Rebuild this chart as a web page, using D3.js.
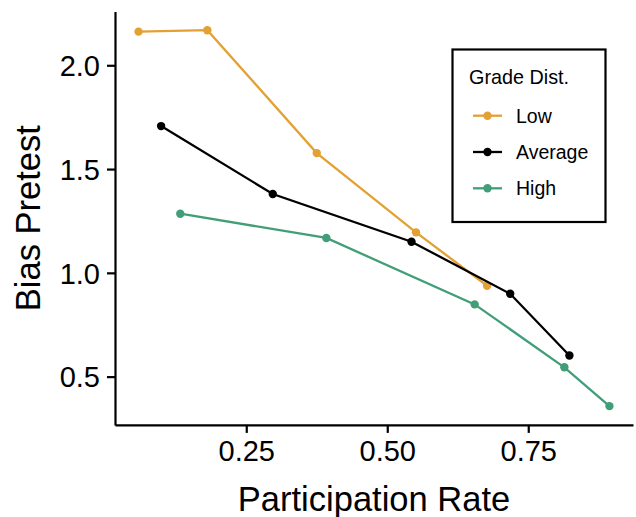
<!DOCTYPE html>
<html>
<head>
<meta charset="utf-8">
<script src="https://cdn.jsdelivr.net/npm/d3@7"></script>
<style>
  html, body { margin: 0; padding: 0; background: #fff; }
  svg { display: block; font-family: "Liberation Sans", Arial, Helvetica, sans-serif; }
</style>
</head>
<body>
<svg id="chart" width="636" height="517"></svg>
<script>
// ---- data ----
const seriesNames = ["Low", "Average", "High"];
const seriesColors = ["#E3A133", "#000000", "#429E78"];
const lowX  = [0.059, 0.181, 0.375, 0.551, 0.677];
const lowY  = [2.162, 2.169, 1.577, 1.195, 0.938];
const avgX  = [0.099, 0.297, 0.543, 0.718, 0.823];
const avgY  = [1.707, 1.380, 1.150, 0.899, 0.602];
const highX = [0.133, 0.392, 0.655, 0.814, 0.894];
const highY = [1.285, 1.168, 0.848, 0.545, 0.358];
const xTicks = [0.25, 0.50, 0.75];
const yTicks = [0.5, 1.0, 1.5, 2.0];
const xTitle = "Participation Rate";
const yTitle = "Bias Pretest";
const legendTitle = "Grade Dist.";

const series = [
  {name: seriesNames[0], color: seriesColors[0], pts: lowX.map((x, i) => ({x, y: lowY[i]}))},
  {name: seriesNames[1], color: seriesColors[1], pts: avgX.map((x, i) => ({x, y: avgY[i]}))},
  {name: seriesNames[2], color: seriesColors[2], pts: highX.map((x, i) => ({x, y: highY[i]}))}
];

// ---- layout ----
const svg = d3.select("#chart");
const pLeft = 115, pRight = 633, pTop = 11.4, pBottom = 424.9;

const allX = series.flatMap(s => s.pts.map(p => p.x));
const allY = series.flatMap(s => s.pts.map(p => p.y));
function expand(ext) { const d = (ext[1] - ext[0]) * 0.05; return [ext[0] - d, ext[1] + d]; }

const x = d3.scaleLinear().domain(expand(d3.extent(allX))).range([pLeft, pRight]);
const y = d3.scaleLinear().domain(expand(d3.extent(allY))).range([pBottom, pTop]);

// ---- axes ----
const xAxis = d3.axisBottom(x).tickValues(xTicks).tickFormat(d3.format(".2f")).tickSize(8).tickPadding(8).tickSizeOuter(0);
const yAxis = d3.axisLeft(y).tickValues(yTicks).tickFormat(d3.format(".1f")).tickSize(8).tickPadding(7).tickSizeOuter(0);

const gx = svg.append("g").attr("transform", `translate(0,${pBottom})`).call(xAxis);
const gy = svg.append("g").attr("transform", `translate(${pLeft},0)`).call(yAxis);
[gx, gy].forEach(g => {
  g.select(".domain").attr("stroke", "#000").attr("stroke-width", 2.2);
  g.selectAll(".tick line").attr("stroke", "#000").attr("stroke-width", 2.2);
  g.selectAll(".tick text").attr("fill", "#000").style("font-size", "29px").style("font-family", "'Liberation Sans', Arial, sans-serif");
});
gy.selectAll(".tick text").attr("dy", "0.35em");

// axis titles
svg.append("text")
  .attr("x", (pLeft + pRight) / 2).attr("y", 511)
  .attr("text-anchor", "middle")
  .style("font-size", "34.5px").attr("fill", "#000")
  .text(xTitle);
svg.append("text")
  .attr("transform", `translate(40,${(pTop + pBottom) / 2}) rotate(-90)`)
  .attr("text-anchor", "middle")
  .style("font-size", "34.5px").attr("fill", "#000")
  .text(yTitle);

// ---- marks ----
const line = d3.line().x(d => x(d.x)).y(d => y(d.y));
const gPoints = svg.append("g");
const gLines = svg.append("g");
series.forEach(s => {
  gPoints.selectAll(null).data(s.pts).enter().append("circle")
    .attr("cx", d => x(d.x)).attr("cy", d => y(d.y)).attr("r", 4.2)
    .attr("fill", s.color);
  gLines.append("path").datum(s.pts)
    .attr("d", line).attr("fill", "none")
    .attr("stroke", s.color).attr("stroke-width", 2.3);
});

// ---- legend ----
const lg = svg.append("g");
lg.append("rect")
  .attr("x", 452.5).attr("y", 49.5).attr("width", 153).attr("height", 172.5)
  .attr("fill", "#fff").attr("stroke", "#000").attr("stroke-width", 2.2);
lg.append("text").attr("x", 469).attr("y", 84)
  .style("font-size", "19.8px").attr("fill", "#000").text(legendTitle);
const rowY = d3.scalePoint().domain(seriesNames).range([115.7, 188.3]);
series.forEach(s => {
  const yy = rowY(s.name);
  lg.append("line").attr("x1", 473).attr("x2", 502).attr("y1", yy).attr("y2", yy)
    .attr("stroke", s.color).attr("stroke-width", 2.3);
  lg.append("circle").attr("cx", 487.5).attr("cy", yy).attr("r", 4.2).attr("fill", s.color);
  lg.append("text").attr("x", 516).attr("y", yy).attr("dy", "0.36em")
    .style("font-size", "19.5px").attr("fill", "#000").text(s.name);
});
</script>
</body>
</html>
